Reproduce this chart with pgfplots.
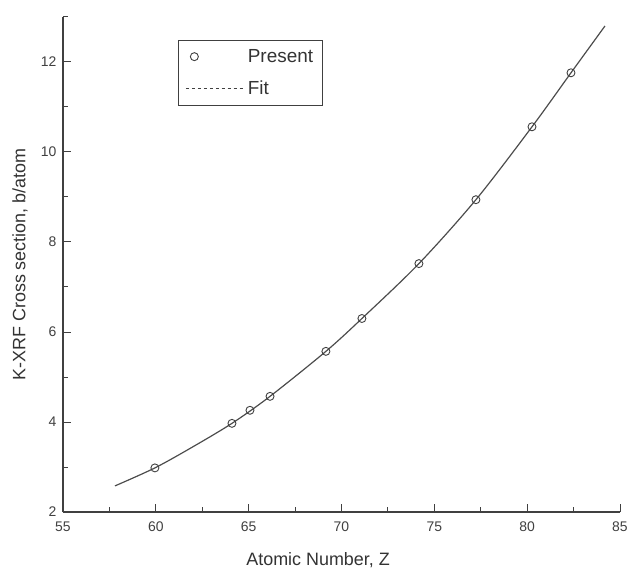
\documentclass[border=0pt]{standalone}
\usepackage{fontspec}
\setmainfont{Liberation Sans}
\usepackage{pgfplots}
\pgfplotsset{compat=1.18}
\begin{document}
\begin{tikzpicture}
\path[use as bounding box] (-63bp,-69bp) rectangle (564bp,512bp);
\begin{axis}[
  at={(0,0)}, anchor=south west,
  scale only axis, width=557bp, height=495bp,
  xmin=55, xmax=85, ymin=2, ymax=13,
  axis lines*=left,
  axis line style={black!75, line width=1.4pt},
  xtick={55,60,...,85}, ytick={2,4,...,12},
  minor xtick={57.5,62.5,...,82.5}, minor ytick={3,5,...,13},
  tick align=inside,
  major tick length=8bp, minor tick length=5bp,
  every tick/.style={black!75, line width=1pt},
  tick label style={font=\fontsize{14}{16}\selectfont, text=black!75},
  /pgf/number format/assume math mode=true,
  xticklabel style={yshift=-6bp},
  yticklabel style={xshift=-3bp},
  xlabel={Atomic Number, Z},
  ylabel={K-XRF Cross section, b/atom},
  label style={font=\fontsize{18}{20}\selectfont, text=black!80},
  xlabel style={at={(axis description cs:0.458,-0.097)}, anchor=center},
  ylabel style={at={(axis description cs:-0.077,0.5)}, anchor=center, rotate=0},
  legend style={at={(axis description cs:0.2065,0.9535)}, anchor=north west,
    draw=black!75, line width=0.8pt, font=\fontsize{19}{22}\selectfont,
    text=black!80, inner xsep=7bp, inner ysep=7bp, row sep=13bp},
  legend cell align=left,
]
\addplot[only marks, mark=o, mark size=4bp, black!75, line width=0.9pt]
  coordinates {
  (59.95,2.98) (64.1,3.97) (65.07,4.26) (66.15,4.57) (69.16,5.57)
  (71.1,6.30) (74.17,7.52) (77.24,8.94) (80.26,10.56) (82.36,11.76)
  };
\addlegendentry{Present}
\addplot[smooth, black!70, line width=1.2pt, forget plot]
  coordinates {
  (57.8,2.58) (59.95,2.98) (62.0,3.45) (64.1,3.97) (66.15,4.57)
  (69.16,5.57) (71.1,6.30) (74.17,7.52) (77.24,8.94) (80.26,10.56)
  (82.36,11.76) (84.19,12.80)
  };
\addlegendimage{black!75, dashed, line width=0.9pt, legend image post style={xscale=3.5}}
\addlegendentry{Fit}
\end{axis}
\end{tikzpicture}
\end{document}
